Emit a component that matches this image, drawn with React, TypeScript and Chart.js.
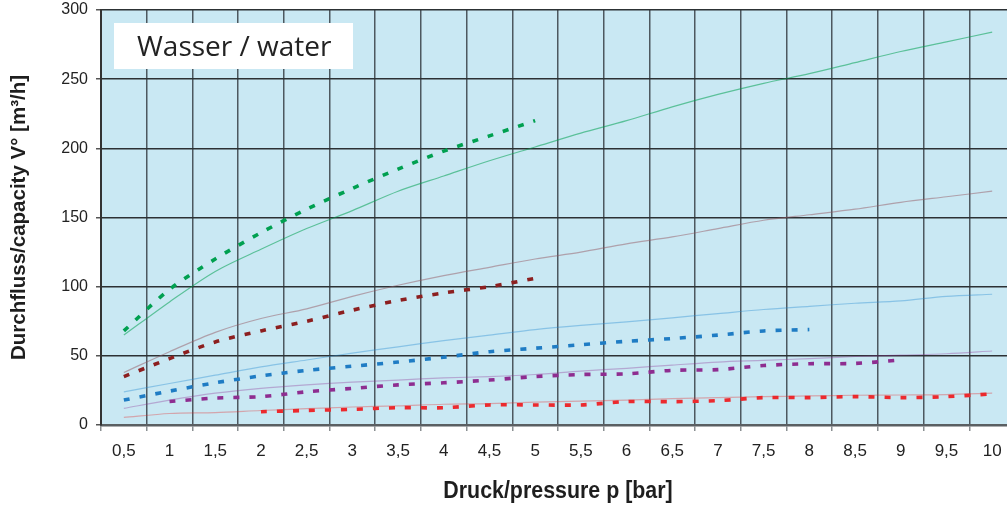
import React, { useEffect, useRef } from "react";
import { Chart, registerables } from "chart.js";

Chart.register(...registerables);

// Pressure (bar) values
const pressureFull = [0.5, 1, 1.5, 2, 2.5, 3, 3.5, 4, 4.5, 5, 5.5, 6, 6.5, 7, 7.5, 8, 8.5, 9, 9.5, 10];
const pressureTo5 = [0.5, 1, 1.5, 2, 2.5, 3, 3.5, 4, 4.5, 5];
const pressureTo8 = [0.5, 1, 1.5, 2, 2.5, 3, 3.5, 4, 4.5, 5, 5.5, 6, 6.5, 7, 7.5, 8];
const pressure1To9 = [1, 1.5, 2, 2.5, 3, 3.5, 4, 4.5, 5, 5.5, 6, 6.5, 7, 7.5, 8, 8.5, 9];
const pressure2To10 = [2, 2.5, 3, 3.5, 4, 4.5, 5, 5.5, 6, 6.5, 7, 7.5, 8, 8.5, 9, 9.5, 10];

// Capacity (m³/h) – solid curves
const greenSolid = [65, 89, 111, 127, 142, 155, 169, 180, 191, 201, 211, 220, 230, 239, 247, 254, 262, 270, 277, 284];
const darkRedSolid = [38, 53, 67, 77, 84, 93, 101, 108, 114, 120, 125, 131, 136, 142, 148, 152, 156, 161, 165, 169];
const blueSolid = [24, 30, 36, 42, 47, 52, 56.5, 61, 65, 69, 72, 74.5, 77.5, 80.5, 83.5, 85.8, 88, 89.7, 93, 94.5];
const purpleSolid = [12, 18, 23, 26.5, 29, 31, 32.5, 34, 35, 36.5, 39, 41, 43.3, 45.5, 46.7, 48, 49.5, 50.5, 51.5, 53.5];
const redSolid = [5.5, 8.3, 9, 10.5, 11.8, 13, 13.8, 15, 15.5, 16.5, 17.3, 18, 19, 19.8, 20.5, 21, 21.5, 21.7, 22, 23];

// Capacity (m³/h) – dashed curves
const greenDashed = [68, 98, 120, 139, 156, 171, 185, 198, 209, 220];
const darkRedDashed = [35, 48, 60, 68, 75, 83, 90, 95.5, 100, 106];
const blueDashed = [18, 24.5, 30.5, 35.5, 39.5, 42.5, 45.5, 49, 53, 55.5, 58, 60.5, 62.5, 65, 68, 69];
const purpleDashed = [17, 19.5, 20.5, 24, 26.5, 29, 30.5, 32.5, 35, 36.5, 37, 39.5, 40, 43, 44.3, 44.5, 47];
const redDashed = [9.6, 10.5, 11.3, 12.5, 12.5, 14.5, 14.5, 14.5, 16.9, 16.9, 17.6, 19.8, 19.8, 20.5, 19.8, 20.5, 22.5];

// Axis ticks
const xTickLabels = [0.5, 1, 1.5, 2, 2.5, 3, 3.5, 4, 4.5, 5, 5.5, 6, 6.5, 7, 7.5, 8, 8.5, 9, 9.5, 10];
const yTicks = [0, 50, 100, 150, 200, 250, 300];

const titleText = "Wasser / water";
const xTitle = "Druck/pressure p [bar]";
const yTitle = "Durchfluss/capacity V° [m³/h]";

const zip = (xs: number[], ys: number[]) => xs.map((x, i) => ({ x, y: ys[i] }));

const solid = (data: number[], color: string) => ({
  data: zip(pressureFull, data),
  borderColor: color,
  borderWidth: 1.2,
  pointRadius: 0,
  tension: 0.3,
  fill: false,
});

const dashed = (xs: number[], data: number[], color: string) => ({
  data: zip(xs, data),
  borderColor: color,
  borderWidth: 3.6,
  borderDash: [6, 10],
  borderCapStyle: "butt",
  pointRadius: 0,
  tension: 0.3,
  fill: false,
});

const sans = "'Liberation Sans', Arial, sans-serif";

export default function App() {
  const ref = useRef<HTMLCanvasElement | null>(null);

  useEffect(() => {
    if (!ref.current) return;

    const decor = {
      id: "decor",
      beforeDraw(chart: any) {
        const { ctx, chartArea } = chart;
        ctx.save();
        ctx.fillStyle = "#ffffff";
        ctx.fillRect(0, 0, chart.width, chart.height);
        ctx.fillStyle = "#c9e8f3";
        ctx.fillRect(chartArea.left, chartArea.top, chartArea.right - chartArea.left, chartArea.bottom - chartArea.top);
        ctx.restore();
      },
      afterDatasetsDraw(chart: any) {
        const { ctx, chartArea } = chart;
        ctx.save();
        // title box
        const bx = chartArea.left + 13;
        const by = chartArea.top + 13;
        ctx.fillStyle = "#ffffff";
        ctx.fillRect(bx, by, 239, 46);
        ctx.fillStyle = "#222222";
        ctx.font = "28px 'Open Sans', 'Liberation Sans', sans-serif";
        ctx.textBaseline = "alphabetic";
        ctx.textAlign = "left";
        ctx.fillText(titleText, bx + 23, by + 33);
        // x axis title (condensed bold)
        ctx.fillStyle = "#1e1e1e";
        ctx.textAlign = "center";
        ctx.textBaseline = "middle";
        ctx.save();
        ctx.translate((chartArea.left + 1015) / 2, 492);
        ctx.scale(0.93, 1);
        ctx.font = "bold 23px " + sans;
        ctx.fillText(xTitle, 0, 0);
        ctx.restore();
        // y axis title
        ctx.translate(19, (chartArea.top + chartArea.bottom) / 2);
        ctx.rotate(-Math.PI / 2);
        ctx.font = "bold 20.5px " + sans;
        ctx.fillText(yTitle, 0, 0);
        ctx.restore();
      },
    };

    const chart = new Chart(ref.current, {
      type: "line",
      data: {
        datasets: [
          solid(greenSolid, "rgba(0,160,80,0.55)"),
          solid(darkRedSolid, "rgba(150,90,100,0.5)"),
          solid(blueSolid, "rgba(40,140,210,0.4)"),
          solid(purpleSolid, "rgba(140,50,150,0.35)"),
          solid(redSolid, "rgba(230,40,40,0.35)"),
          dashed(pressureTo5, greenDashed, "#00a050"),
          dashed(pressureTo5, darkRedDashed, "#8c1f1f"),
          dashed(pressureTo8, blueDashed, "#1f7cc4"),
          dashed(pressure1To9, purpleDashed, "#8e2d90"),
          dashed(pressure2To10, redDashed, "#ec2a2e"),
        ] as any,
      },
      options: {
        responsive: false,
        animation: false,
        layout: { padding: { top: 10, left: 0, right: 0, bottom: 0 } },
        plugins: { legend: { display: false }, tooltip: { enabled: false } },
        scales: {
          x: {
            type: "linear",
            min: 0.25,
            max: 10.25,
            afterBuildTicks: (scale: any) => {
              scale.ticks = xTickLabels.map((v) => ({ value: v }));
            },
            afterFit: (scale: any) => {
              scale.height = 81;
              scale.paddingLeft = 0;
              scale.paddingRight = 0;
            },
            grid: {
              offset: true,
              color: "rgba(55,62,68,0.85)",
              lineWidth: 1.5,
              tickLength: 6,
              tickColor: "#8a8f92",
            },
            border: { display: true, color: "#5a5f62", width: 2.5 },
            ticks: {
              autoSkip: false,
              maxRotation: 0,
              padding: 10,
              color: "#222",
              font: { family: sans, size: 17 },
              callback: (v: any) => String(v).replace(".", ","),
            },
          },
          y: {
            type: "linear",
            min: 0,
            max: 300,
            afterBuildTicks: (scale: any) => {
              scale.ticks = yTicks.map((v) => ({ value: v }));
            },
            afterFit: (scale: any) => {
              scale.width = 101;
              scale.paddingTop = 0;
              scale.paddingBottom = 0;
            },
            grid: {
              color: "#2c3134",
              lineWidth: 1.5,
              tickLength: 5,
              tickColor: "#555",
            },
            border: { display: true, color: "#333", width: 2 },
            ticks: {
              padding: 8,
              color: "#222",
              font: { family: sans, size: 16 },
            },
          },
        },
      },
      plugins: [decor],
    } as any);

    return () => chart.destroy();
  }, []);

  return (
    <div
      style={{
        position: "fixed",
        left: 0,
        top: 0,
        width: 1007,
        height: 506,
        overflow: "hidden",
        background: "#fff",
      }}
    >
      <canvas ref={ref} width={1015} height={506} style={{ display: "block", width: 1015, height: 506 }} />
    </div>
  );
}
